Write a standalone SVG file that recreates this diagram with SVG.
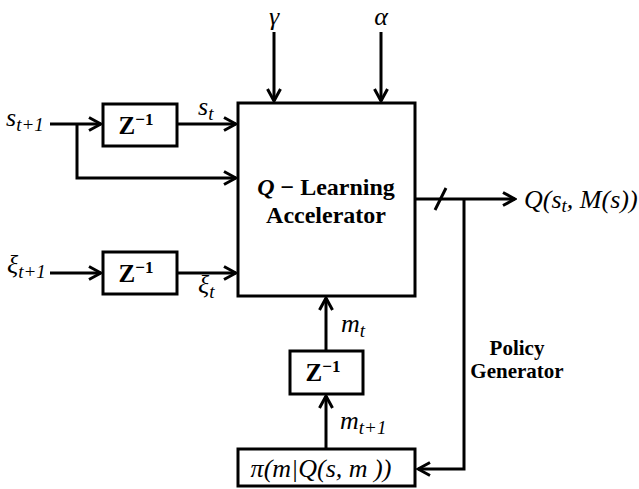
<svg xmlns="http://www.w3.org/2000/svg" width="639" height="489" viewBox="0 0 639 489">
<style>
.box{fill:#fff;stroke:#000;stroke-width:3}
.ln{fill:none;stroke:#000;stroke-width:3}
.m{font-family:"Liberation Serif",serif;font-style:italic;font-size:26px;fill:#000}
.sub{font-size:19px}
.z{font-family:"Liberation Serif",serif;font-weight:bold;font-size:25px;fill:#000}
.b{font-family:"Liberation Serif",serif;font-weight:bold;fill:#000}
</style>
<defs>
<marker id="ah" markerUnits="userSpaceOnUse" markerWidth="16" markerHeight="16" viewBox="-14 -8 16 16" refX="0" refY="0" orient="auto">
<path d="M-12,-6.5 L0,0 L-12,6.5" fill="none" stroke="#000" stroke-width="3"/>
</marker>
</defs>
<g id="connectors">
<line class="ln" x1="274" y1="32" x2="274" y2="101" marker-end="url(#ah)"/>
<line class="ln" x1="381" y1="32" x2="381" y2="101" marker-end="url(#ah)"/>
<line class="ln" x1="50" y1="124" x2="101" y2="124" marker-end="url(#ah)"/>
<line class="ln" x1="177" y1="124" x2="236" y2="124" marker-end="url(#ah)"/>
<path class="ln" d="M77,124 V178 H236" marker-end="url(#ah)"/>
<line class="ln" x1="50" y1="273" x2="101" y2="273" marker-end="url(#ah)"/>
<line class="ln" x1="177" y1="273" x2="236" y2="273" marker-end="url(#ah)"/>
<line class="ln" x1="416" y1="199" x2="515" y2="199" marker-end="url(#ah)"/>
<line class="ln" x1="435" y1="210" x2="446" y2="188"/>
<path class="ln" d="M464,199 V469 H418" marker-end="url(#ah)"/>
<line class="ln" x1="326" y1="351" x2="326" y2="298" marker-end="url(#ah)"/>
<line class="ln" x1="326" y1="448" x2="326" y2="396" marker-end="url(#ah)"/>
</g>
<g id="accelerator">
<rect class="box" x="238" y="103" width="177" height="193"/>
<text class="b" font-size="24" x="326" y="195" text-anchor="middle"><tspan font-style="italic">Q</tspan> − Learning</text>
<text class="b" font-size="24" x="326" y="223" text-anchor="middle">Accelerator</text>
</g>
<g id="delay-s">
<rect class="box" x="103" y="104" width="74" height="42"/>
<text class="z" x="136" y="134" text-anchor="middle">Z<tspan font-size="17" dy="-9">−1</tspan></text>
</g>
<g id="delay-xi">
<rect class="box" x="103" y="252" width="74" height="42"/>
<text class="z" x="136" y="282" text-anchor="middle">Z<tspan font-size="17" dy="-9">−1</tspan></text>
</g>
<g id="delay-m">
<rect class="box" x="290" y="351" width="73" height="43"/>
<text class="z" x="323" y="381" text-anchor="middle">Z<tspan font-size="17" dy="-9">−1</tspan></text>
</g>
<g id="policy">
<rect class="box" x="238" y="449" width="177" height="37"/>
<text class="m" font-size="28" x="321" y="477" text-anchor="middle">π(m|Q(s, m ))</text>
</g>
<g id="labels">
<text class="m" x="274" y="25" text-anchor="middle">γ</text>
<text class="m" x="381" y="25" text-anchor="middle">α</text>
<text class="m" x="6" y="126">s<tspan class="sub" dy="5">t+1</tspan></text>
<text class="m" x="198" y="115">s<tspan class="sub" dy="5">t</tspan></text>
<text class="m" x="7" y="273">ξ<tspan class="sub" dy="5">t+1</tspan></text>
<text class="m" x="198" y="293">ξ<tspan class="sub" dy="5">t</tspan></text>
<text class="m" font-size="27" x="524" y="208">Q(s<tspan class="sub" dy="4">t</tspan><tspan dy="-4">, M(s))</tspan></text>
<text class="m" x="341" y="332">m<tspan class="sub" dy="5">t</tspan></text>
<text class="m" x="340" y="429">m<tspan class="sub" dy="5">t+1</tspan></text>
<text class="b" font-size="21" x="517" y="355" text-anchor="middle">Policy</text>
<text class="b" font-size="21" x="517" y="378" text-anchor="middle">Generator</text>
</g>
</svg>
